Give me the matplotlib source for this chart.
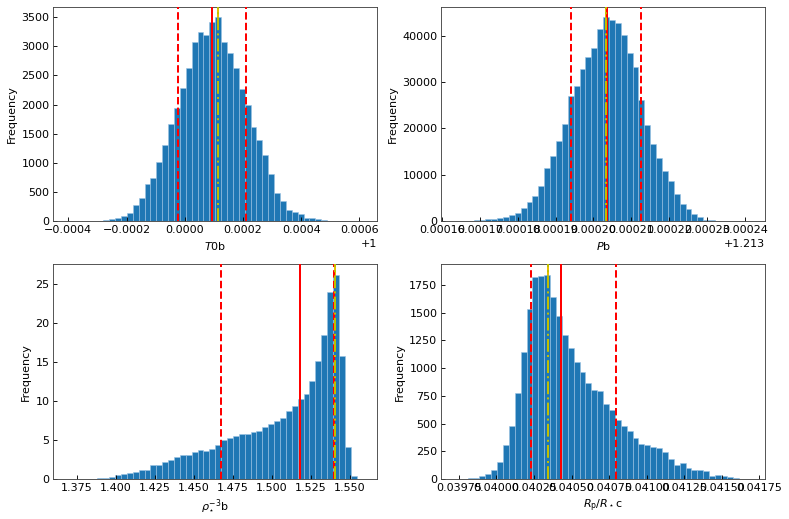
import numpy as np
import matplotlib
matplotlib.use("Agg")
import matplotlib.pyplot as plt

# histogram counts (50 bins each)
t0_range = (1 - 0.000401, 1 + 0.000610)
t0_counts = [1, 0, 1, 1, 2, 8, 25, 45, 60, 90,
             140, 280, 400, 640, 750, 1010, 1310, 1660, 1950, 2290,
             2620, 3080, 3240, 3190, 3420, 3500, 3070, 2890, 2620, 2260,
             2000, 1620, 1400, 1130, 820, 490, 350, 200, 160, 120,
             60, 55, 40, 20, 15, 8, 5, 3, 1, 1]
t0_lines = dict(mean=1.0000937, lo=0.9999757, hi=1.0002105, mode=1.000113)

pb_range = (1.213 + 0.0001637, 1.213 + 0.0002414)
pb_counts = [30, 50, 150, 200, 350, 450, 500, 650, 950, 1400,
             1900, 2800, 4200, 5500, 7600, 11400, 14000, 17200, 21000, 27000,
             29200, 32800, 35300, 37300, 41400, 44000, 43400, 42800, 40200, 36300,
             33200, 26200, 20800, 16600, 13600, 10900, 8600, 6000, 3800, 2600,
             1500, 900, 400, 250, 100, 50, 30, 15, 8, 3]
pb_lines = dict(mean=1.2132037, lo=1.213194, hi=1.2132125, mode=1.2132033)

rho_range = (1.3694, 1.5582)
rho_counts = [0.03, 0.02, 0.02, 0.03, 0.05, 0.1, 0.15, 0.3, 0.45, 0.6,
              0.75, 0.9, 1.15, 1.2, 1.8, 1.8, 2.15, 2.45, 2.8, 3.05,
              3.1, 3.5, 3.7, 3.55, 3.85, 4.35, 5.05, 5.25, 5.5, 5.75,
              5.75, 6.05, 6.15, 6.7, 7.05, 7.4, 7.8, 8.75, 9.3, 10.3,
              10.85, 12.5, 15.1, 18.4, 23.9, 26.2, 15.8, 4.1, 0.35, 0.02]
rho_lines = dict(mean=1.5179, lo=1.4674, hi=1.5397, mode=1.5405)

rp_range = (0.0397306, 0.04169)
rp_counts = [3, 4, 5, 8, 30, 45, 80, 150, 310, 480,
             775, 1145, 1530, 1825, 1830, 1845, 1640, 1470, 1300, 1180,
             1055, 970, 870, 800, 790, 680, 620, 530, 480, 430,
             370, 320, 305, 290, 280, 240, 180, 130, 140, 100,
             85, 80, 75, 30, 35, 25, 20, 5, 4, 3]
rp_lines = dict(mean=0.040431, lo=0.040233, hi=0.040799, mode=0.040342)

panels = [
    (t0_range, t0_counts, t0_lines, "$T0$b", 1.0),
    (pb_range, pb_counts, pb_lines, "$P$b", 1.213),
    (rho_range, rho_counts, rho_lines, r"$\rho_{\star}^{-3}$b", None),
    (rp_range, rp_counts, rp_lines, r"$R_{\rm p}/R_\star$c", None),
]

fig, axes = plt.subplots(2, 2, figsize=(789 / 80, 519 / 80), dpi=80)
fig.subplots_adjust(left=0.0676, right=0.9696, bottom=0.0771, top=0.987,
                    wspace=0.198, hspace=0.2)

for ax, (rng, counts, lines, label, offset) in zip(axes.flat, panels):
    edges = np.linspace(rng[0], rng[1], len(counts) + 1)
    centers = 0.5 * (edges[:-1] + edges[1:])
    ax.axvline(lines["mode"], color="#e8c000", lw=1.8, zorder=0)
    ax.hist(centers, bins=edges, weights=counts, color="#1f77b4",
            edgecolor="#9cc3e3", linewidth=0.5, zorder=1)
    ax.axvline(lines["mean"], color="red", lw=1.8, zorder=3)
    ax.axvline(lines["lo"], color="red", ls="--", lw=1.8, zorder=3)
    ax.axvline(lines["hi"], color="red", ls="--", lw=1.8, zorder=3)
    ax.axvline(lines["mode"], color="y", ls="-.", lw=1.8, zorder=4)
    if offset is not None:
        ax.ticklabel_format(axis="x", style="plain", useOffset=offset)
    else:
        ax.ticklabel_format(axis="x", style="plain", useOffset=False)
    ax.set_xlabel(label)
    ax.set_ylabel("Frequency")
    ax.tick_params(direction="in")
    for s in ax.spines.values():
        s.set_color("#444444")

fig.savefig("out.png", dpi=80)
